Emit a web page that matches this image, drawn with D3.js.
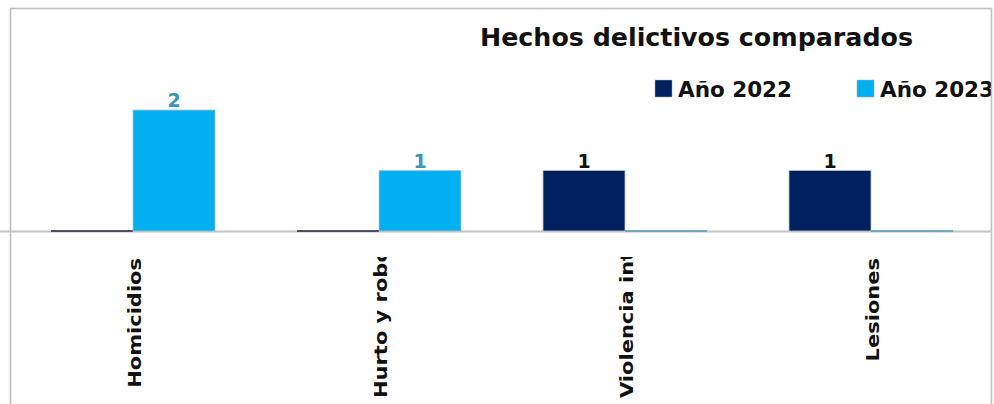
<!DOCTYPE html>
<html>
<head>
<meta charset="utf-8">
<script src="https://cdn.jsdelivr.net/npm/d3@7"></script>
<style>
  body { margin: 0; background: #fff; }
  svg { display: block; font-family: "DejaVu Sans", Verdana, sans-serif; }
</style>
</head>
<body>
<svg width="994" height="404"></svg>
<script>
// Chart data
const categories = ["Homicidios", "Hurto y robo", "Violencia intrafamiliar", "Lesiones"];
const seriesNames = ["Año 2022", "Año 2023"];
const values2022 = [0, 0, 1, 1];
const values2023 = [2, 1, 0, 0];
const yTicks = [0, 1, 2];

const colors = { "Año 2022": "#002060", "Año 2023": "#00B0F0" };
const zeroColor = { "Año 2022": "#2b3350", "Año 2023": "#5a9fbd" };
const labelColors = { "Año 2022": "#111", "Año 2023": "#3b96bd" };

const svg = d3.select("svg");
const width = +svg.attr("width");
const height = +svg.attr("height");

const baseY = 231;

// clip to the chart frame
const defs = svg.append("defs");
defs.append("clipPath").attr("id", "frame")
    .append("rect").attr("x", 11).attr("y", 9).attr("width", 980).attr("height", 420);
defs.append("clipPath").attr("id", "labelClip")
    .append("rect").attr("x", 0).attr("y", 257).attr("width", width).attr("height", 150);

// Category axis line (under the bars)
svg.append("line")
    .attr("x1", 0).attr("x2", 991)
    .attr("y1", baseY + 0.5).attr("y2", baseY + 0.5)
    .attr("stroke", "#c4c4c4")
    .attr("stroke-width", 1.8);

const root = svg.append("g").attr("clip-path", "url(#frame)");

// Scales
const x0 = d3.scaleBand()
    .domain(categories)
    .range([10, 994])
    .paddingInner(1 / 3)
    .paddingOuter(1 / 6);

const x1 = d3.scaleBand()
    .domain(seriesNames)
    .range([0, x0.bandwidth()]);

const y = d3.scaleLinear()
    .domain([0, d3.max(yTicks)])
    .range([baseY, 110]);

const rows = categories.map((c, i) => ({
    category: c,
    values: [
        { series: "Año 2022", value: values2022[i] },
        { series: "Año 2023", value: values2023[i] }
    ]
}));

// Bars
const groups = root.append("g")
    .selectAll("g")
    .data(rows)
    .enter()
    .append("g")
    .attr("transform", d => `translate(${x0(d.category)},0)`);

// zero values still show as a thin line on the baseline
const zeroH = 1.6;
groups.selectAll("rect")
    .data(d => d.values)
    .enter()
    .append("rect")
    .attr("x", d => x1(d.series))
    .attr("y", d => d.value === 0 ? y(0) - zeroH / 2 : y(d.value))
    .attr("width", x1.bandwidth())
    .attr("height", d => d.value === 0 ? zeroH : y(0) - y(d.value))
    .attr("fill", d => d.value === 0 ? zeroColor[d.series] : colors[d.series])
    .attr("stroke", d => d.value === 0 ? "none" : "#b8c4cc")
    .attr("stroke-width", 0.8);

// Value labels (non-zero only)
groups.selectAll("text")
    .data(d => d.values.filter(v => v.value > 0))
    .enter()
    .append("text")
    .attr("x", d => x1(d.series) + x1.bandwidth() / 2)
    .attr("y", d => y(d.value) - 3)
    .attr("text-anchor", "middle")
    .attr("font-size", "19px")
    .attr("font-weight", "bold")
    .attr("fill", d => labelColors[d.series])
    .text(d => d.value);

// Frame
svg.append("rect")
    .attr("x", 10.5).attr("y", 8.5)
    .attr("width", 981).attr("height", 420)
    .attr("fill", "none")
    .attr("stroke", "#c0c0c0")
    .attr("stroke-width", 1.6);

// Rotated category labels
const labelTop = 258, labelBottom = 398;
const catLabels = svg.append("g").attr("clip-path", "url(#labelClip)");
categories.forEach(c => {
    const cx = x0(c) + x0.bandwidth() / 2 + 8;
    const t = catLabels.append("text")
        .attr("font-size", "21px")
        .attr("font-weight", "bold")
        .attr("fill", "#111")
        .text(c);
    const len = t.node().getComputedTextLength();
    if (len <= labelBottom - labelTop) {
        t.attr("text-anchor", "end")
         .attr("transform", `translate(${cx},${labelTop}) scale(0.88,1) rotate(-90)`);
    } else {
        t.attr("text-anchor", "start")
         .attr("transform", `translate(${cx},${labelBottom}) scale(0.88,1) rotate(-90)`);
    }
});

// Title
root.append("text")
    .attr("x", 480).attr("y", 46)
    .attr("font-size", "24px")
    .attr("font-weight", "bold")
    .attr("fill", "#111")
    .attr("textLength", 433)
    .attr("lengthAdjust", "spacingAndGlyphs")
    .text("Hechos delictivos comparados");

// Legend
const legendX = [655, 857];
const legend = root.append("g")
    .selectAll("g")
    .data(seriesNames)
    .enter()
    .append("g")
    .attr("transform", (d, i) => `translate(${legendX[i]},80)`);

legend.append("rect")
    .attr("width", 17).attr("height", 17)
    .attr("fill", d => colors[d])
    .attr("stroke", "#9aa")
    .attr("stroke-width", 0.5);

legend.append("text")
    .attr("x", 23).attr("y", 17)
    .attr("font-size", "21px")
    .attr("font-weight", "bold")
    .attr("fill", "#111")
    .attr("textLength", 114)
    .attr("lengthAdjust", "spacingAndGlyphs")
    .text(d => d);
</script>
</body>
</html>
